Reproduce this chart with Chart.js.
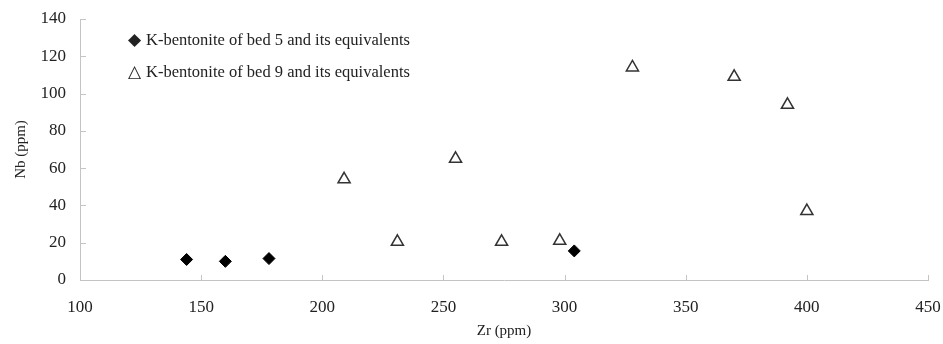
<!DOCTYPE html>
<html>
<head>
<meta charset="utf-8">
<script src="https://cdn.jsdelivr.net/npm/chart.js@4.4.0/dist/chart.umd.min.js"></script>
<style>
  html, body { margin: 0; padding: 0; background: #fff; }
  #wrap { position: relative; width: 943px; height: 344px; }
  #legend { position: absolute; left: 128px; top: 24px; font-family: "Liberation Serif", serif; font-size: 16.5px; color: #222; line-height: 32px; }
  #legend span.sym { display: inline-block; width: 18px; }
</style>
</head>
<body>
<div id="wrap">
  <canvas id="myChart" width="943" height="344"></canvas>
  <div id="legend"></div>
</div>
<script>
// bed 5 (diamonds)
const bed5Zr = [144, 160, 178, 304];
const bed5Nb = [11, 10, 11.5, 15.6];
// bed 9 (triangles)
const bed9Zr = [209, 231, 255, 274, 298, 328, 370, 392, 400];
const bed9Nb = [54, 20.5, 65, 20.5, 21, 114, 109, 94, 37];

const labels = ['K-bentonite of bed 5 and its equivalents', 'K-bentonite of bed 9 and its equivalents'];
const symbols = ['\u25C6', '\u25B3'];
const xTicks = [100, 150, 200, 250, 300, 350, 400, 450];
const yTicks = [0, 20, 40, 60, 80, 100, 120, 140];

const toPoints = (xs, ys) => xs.map((x, i) => ({ x: x, y: ys[i] }));

const axisColor = '#c4c4c4';
const textColor = '#222';
const serif = '"Liberation Serif", "Times New Roman", serif';

// small ticks pointing into the plot, like the original
const innerTicks = {
    id: 'innerTicks',
    afterDraw(chart) {
        const c = chart.ctx, xs = chart.scales.x, ys = chart.scales.y;
        c.save();
        c.strokeStyle = axisColor;
        c.lineWidth = 1;
        c.beginPath();
        xTicks.forEach(v => {
            const px = Math.round(xs.getPixelForValue(v)) + 0.5;
            c.moveTo(px, ys.bottom);
            c.lineTo(px, ys.bottom - 5);
        });
        yTicks.forEach(v => {
            const py = Math.round(ys.getPixelForValue(v)) + 0.5;
            c.moveTo(xs.left, py);
            c.lineTo(xs.left + 6, py);
        });
        c.stroke();
        c.restore();
    }
};

const ctx = document.getElementById('myChart').getContext('2d');
const myChart = new Chart(ctx, {
    type: 'scatter',
    data: {
        datasets: [{
            label: labels[0],
            data: toPoints(bed5Zr, bed5Nb),
            pointStyle: 'rectRot',
            pointRadius: 6,
            backgroundColor: '#000',
            borderColor: '#000',
            borderWidth: 1
        }, {
            label: labels[1],
            data: toPoints(bed9Zr, bed9Nb),
            pointStyle: 'triangle',
            pointRadius: 7,
            backgroundColor: 'rgba(255,255,255,0)',
            borderColor: '#333',
            borderWidth: 1.5
        }]
    },
    options: {
        responsive: false,
        animation: false,
        layout: { padding: { top: 19, right: 15, left: 0, bottom: 0 } },
        plugins: {
            legend: { display: false },
            tooltip: { enabled: false }
        },
        scales: {
            x: {
                type: 'linear',
                min: 100, max: 450,
                afterBuildTicks: s => { s.ticks = xTicks.map(v => ({ value: v })); },
                afterFit: s => { s.height = 64; s.paddingRight = 0; s.paddingLeft = 0; },
                grid: { display: false, drawTicks: false },
                border: { color: axisColor, width: 1 },
                ticks: { color: textColor, padding: 17, font: { family: serif, size: 17 } },
                title: { display: true, text: 'Zr (ppm)', color: textColor, padding: { top: 5 }, font: { family: serif, size: 15 } }
            },
            y: {
                type: 'linear',
                min: 0, max: 140,
                afterBuildTicks: s => { s.ticks = yTicks.map(v => ({ value: v })); },
                afterFit: s => { s.width = 80; s.paddingTop = 0; s.paddingBottom = 0; },
                grid: { display: false, drawTicks: false },
                border: { color: axisColor, width: 1 },
                ticks: { color: textColor, padding: 14, font: { family: serif, size: 17 } },
                title: { display: true, text: 'Nb (ppm)', color: textColor, padding: { top: 12, bottom: 2 }, font: { family: serif, size: 15 } }
            }
        }
    },
    plugins: [innerTicks]
});

document.getElementById('legend').innerHTML = labels
    .map((l, i) => '<div><span class="sym">' + symbols[i] + '</span>' + l + '</div>')
    .join('');
</script>
</body>
</html>
